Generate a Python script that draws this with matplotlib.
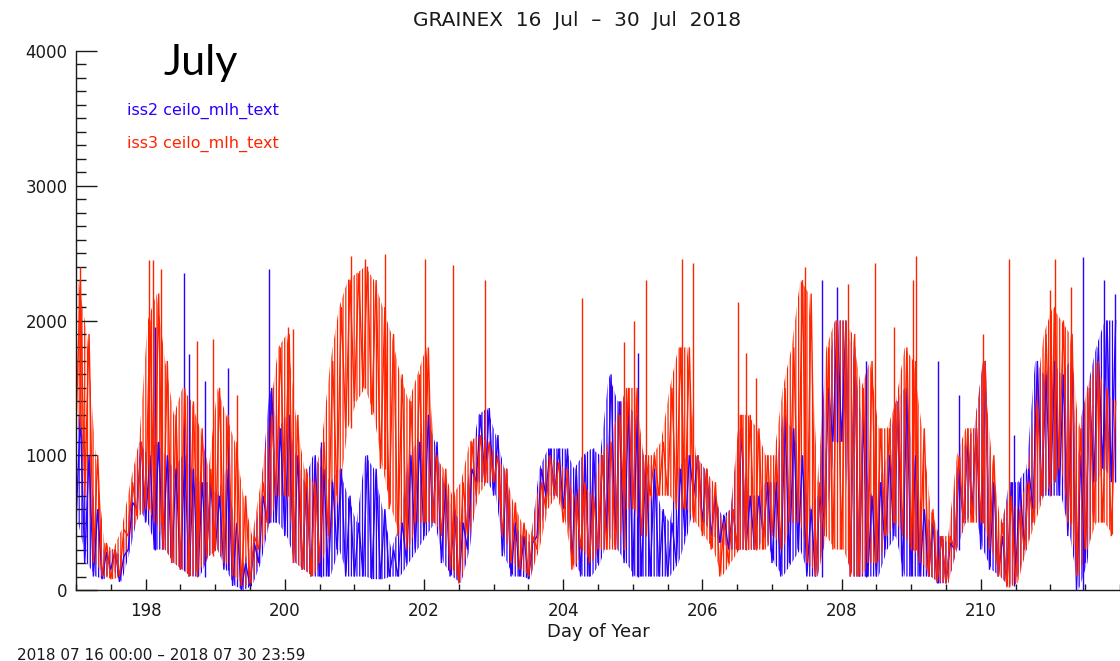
import numpy as np
import matplotlib
matplotlib.use("Agg")
import matplotlib.pyplot as plt
from matplotlib.ticker import MultipleLocator

# Mixed-layer height (m) from the two ceilometers, summarised as the lower and
# upper bound reached in each 3-hour block, starting at day 197.0.
DAY_START = 197.0
DAY_END = 212.0
BLOCK = 0.125

iss3_low = [
    1200, 700, 200, 100, 80, 100, 400, 550,
    600, 500, 300, 200, 150, 100, 150, 250,
    300, 200, 100, 30, 50, 300, 500, 700,
    700, 200, 150, 100, 200, 400, 700, 1200,
    1400, 1500, 1300, 900, 600, 400, 300, 500,
    500, 500, 400, 150, 50, 400, 700, 800,
    800, 400, 200, 150, 100, 300, 600, 700,
    500, 150, 300, 200, 300, 300, 300, 600,
    600, 400, 700, 700, 700, 600, 600, 500,
    400, 300, 100, 200, 300, 300, 300, 300,
    400, 300, 500, 500, 200, 100, 400, 300,
    300, 100, 100, 200, 200, 400, 500, 400,
    300, 200, 100, 60, 50, 300, 500, 500,
    500, 300, 100, 20, 50, 300, 500, 700,
    800, 900, 500, 100, 300, 500, 500, 400,
]
iss3_high = [
    2300, 1900, 1000, 350, 300, 450, 800, 1100,
    2000, 2200, 1700, 1300, 1500, 1400, 1200, 900,
    1500, 1300, 1100, 700, 400, 800, 1300, 1800,
    1900, 1300, 900, 800, 1100, 1700, 2100, 2300,
    2350, 2400, 2300, 2100, 1900, 1600, 1400, 1600,
    1800, 1000, 900, 700, 800, 1100, 1150, 1100,
    1000, 900, 650, 500, 400, 800, 1000, 950,
    900, 700, 800, 700, 1000, 1100, 1300, 1500,
    1500, 1000, 1000, 1100, 1500, 1800, 1800, 1000,
    900, 800, 500, 600, 1300, 1300, 1200, 1000,
    1000, 1500, 1800, 2300, 2200, 800, 1800, 2000,
    2000, 1900, 1500, 1700, 1200, 1200, 1400, 1800,
    1700, 1200, 600, 400, 400, 1000, 1200, 1200,
    1700, 1000, 500, 700, 600, 800, 1400, 1900,
    2100, 2000, 1900, 1200, 1500, 1700, 1500, 1400,
]
iss2_low = [
    500, 200, 100, 80, 150, 60, 300, 600,
    500, 300, 300, 200, 150, 100, 100, 250,
    300, 150, 30, 0, 30, 200, 500, 500,
    400, 200, 150, 100, 100, 100, 300, 100,
    100, 100, 80, 80, 100, 100, 200, 300,
    400, 500, 200, 100, 50, 300, 800, 800,
    700, 250, 100, 100, 80, 400, 700, 700,
    600, 200, 100, 100, 200, 400, 300, 200,
    100, 100, 100, 100, 100, 200, 400, 700,
    500, 400, 350, 300, 300, 300, 300, 400,
    200, 100, 200, 300, 100, 100, 500, 1100,
    1100, 100, 100, 100, 100, 300, 400, 100,
    100, 100, 100, 50, 50, 300, 500, 600,
    300, 150, 100, 30, 100, 300, 600, 700,
    700, 700, 400, 0, 200, 800, 900, 800,
]
iss2_high = [
    1300, 1000, 600, 280, 300, 250, 650, 1100,
    1000, 1100, 1000, 900, 1000, 900, 800, 800,
    700, 900, 500, 200, 350, 700, 1500, 1200,
    1300, 1000, 800, 1000, 900, 800, 900, 700,
    500, 1000, 900, 600, 300, 500, 1000, 1100,
    1300, 1100, 800, 600, 500, 900, 1300, 1350,
    1150, 900, 500, 400, 350, 900, 1050, 1050,
    1050, 900, 1000, 1050, 1000, 1600, 1400, 1400,
    1300, 1000, 900, 600, 500, 900, 1000, 1000,
    900, 700, 550, 600, 1200, 700, 700, 800,
    800, 1300, 1200, 1000, 600, 700, 1500, 2000,
    2000, 1800, 1300, 700, 800, 1000, 1400, 1500,
    1000, 600, 500, 400, 350, 900, 1100, 1200,
    1700, 800, 400, 800, 800, 900, 1700, 1600,
    1700, 1600, 1700, 1000, 1500, 1800, 2000, 2000,
]

# Isolated high retrievals (day of year, height in m)
iss3_spike_day = [197.06, 198.05, 198.10, 198.22, 198.74, 198.97, 199.31,
                  200.05, 200.12, 200.95, 201.15, 201.44, 202.02, 202.42,
                  202.88, 204.27, 204.87, 205.02, 205.19, 205.71, 205.87,
                  206.51, 206.63, 206.77, 207.47, 208.09, 208.48, 208.75,
                  209.03, 209.07, 210.03, 210.41, 210.99, 211.07, 211.30]
iss3_spike_top = [2400, 2450, 2450, 2380, 1850, 1860, 1450,
                  1950, 1940, 2480, 2460, 2490, 2460, 2410,
                  2300, 2170, 1840, 2000, 2300, 2460, 2425,
                  2140, 1760, 1570, 2400, 2270, 2430, 1950,
                  2300, 2480, 1900, 2460, 2230, 2460, 2250]
iss2_spike_day = [198.13, 198.55, 198.62, 198.85, 199.18, 199.77, 200.52,
                  205.07, 207.72, 207.93, 208.35, 209.39, 209.68, 210.48,
                  211.47, 211.77, 211.93]
iss2_spike_top = [1950, 2350, 1750, 1550, 1650, 2380, 1100,
                  1760, 2300, 2250, 1700, 1700, 1450, 1150,
                  2470, 2300, 2200]

BLUE = "#2a00ff"
RED = "#ff2400"
INK = "#1a1a1a"

plt.rcParams["hatch.linewidth"] = 0.9


def draw_station(ax, low, high, spike_day, spike_top, color):
    low = np.asarray(low, float)
    high = np.asarray(high, float)
    start = DAY_START + BLOCK * np.arange(len(low))
    centre = start + BLOCK / 4
    # dense retrievals inside each block: vertical hatching between bounds
    ax.fill_between(centre, low, high, facecolor="none", edgecolor=color,
                    hatch="||||||", linewidth=0)
    # alternate between the block minimum and maximum
    x = np.column_stack([start, start + BLOCK / 2]).ravel()
    y = np.column_stack([low, high]).ravel()
    ax.plot(x, y, color=color, lw=1.0, solid_joinstyle="miter")
    spike_day = np.asarray(spike_day, float)
    idx = np.clip(((spike_day - DAY_START) / BLOCK).astype(int), 0, len(low) - 1)
    ax.vlines(spike_day, low[idx], spike_top, color=color, lw=1.0)


fig = plt.figure(figsize=(11.2, 6.61), dpi=100)
ax = fig.add_axes([76 / 1120, 71 / 661, 1 - 76 / 1120, 539 / 661])

draw_station(ax, iss2_low, iss2_high, iss2_spike_day, iss2_spike_top, BLUE)
draw_station(ax, iss3_low, iss3_high, iss3_spike_day, iss3_spike_top, RED)

ax.set_xlim(DAY_START, DAY_END)
ax.set_ylim(0, 4000)
for side in ("top", "right"):
    ax.spines[side].set_visible(False)
for side in ("left", "bottom"):
    ax.spines[side].set_color(INK)
    ax.spines[side].set_linewidth(1.0)

ax.xaxis.set_major_locator(MultipleLocator(2))
ax.xaxis.set_minor_locator(MultipleLocator(0.5))
ax.yaxis.set_major_locator(MultipleLocator(1000))
ax.yaxis.set_minor_locator(MultipleLocator(100))
ax.set_xticks([198, 200, 202, 204, 206, 208, 210])
ax.tick_params(axis="x", which="major", direction="in", length=8, width=1.0,
               color=INK, labelsize=12, pad=9, labelcolor=INK)
ax.tick_params(axis="x", which="minor", direction="in", length=4, width=1.0,
               color=INK)
ax.tick_params(axis="y", which="major", direction="in", length=15, width=1.0,
               color=INK, labelsize=12, pad=6, labelcolor=INK)
ax.tick_params(axis="y", which="minor", direction="in", length=7.5, width=1.0,
               color=INK)

fig.text(577 / 1120, 1 - 20 / 661, "GRAINEX  16  Jul  –  30  Jul  2018",
         ha="center", va="center", fontsize=14.5, color=INK)
fig.text(598 / 1120, 1 - 632 / 661, "Day of Year", ha="center", va="center",
         fontsize=13, color=INK)
fig.text(17 / 1120, 1 - 655 / 661, "2018 07 16 00:00 – 2018 07 30 23:59",
         ha="left", va="center", fontsize=11, color=INK)
fig.text(163 / 1120, 1 - 75 / 661, "July", ha="left", va="baseline",
         fontsize=31, family="Lato", color="black")
fig.text(127 / 1120, 1 - 111 / 661, "iss2 ceilo_mlh_text", ha="left",
         va="center", fontsize=11.5, color=BLUE)
fig.text(127 / 1120, 1 - 144 / 661, "iss3 ceilo_mlh_text", ha="left",
         va="center", fontsize=11.5, color=RED)

fig.savefig("out.png", dpi=100)
